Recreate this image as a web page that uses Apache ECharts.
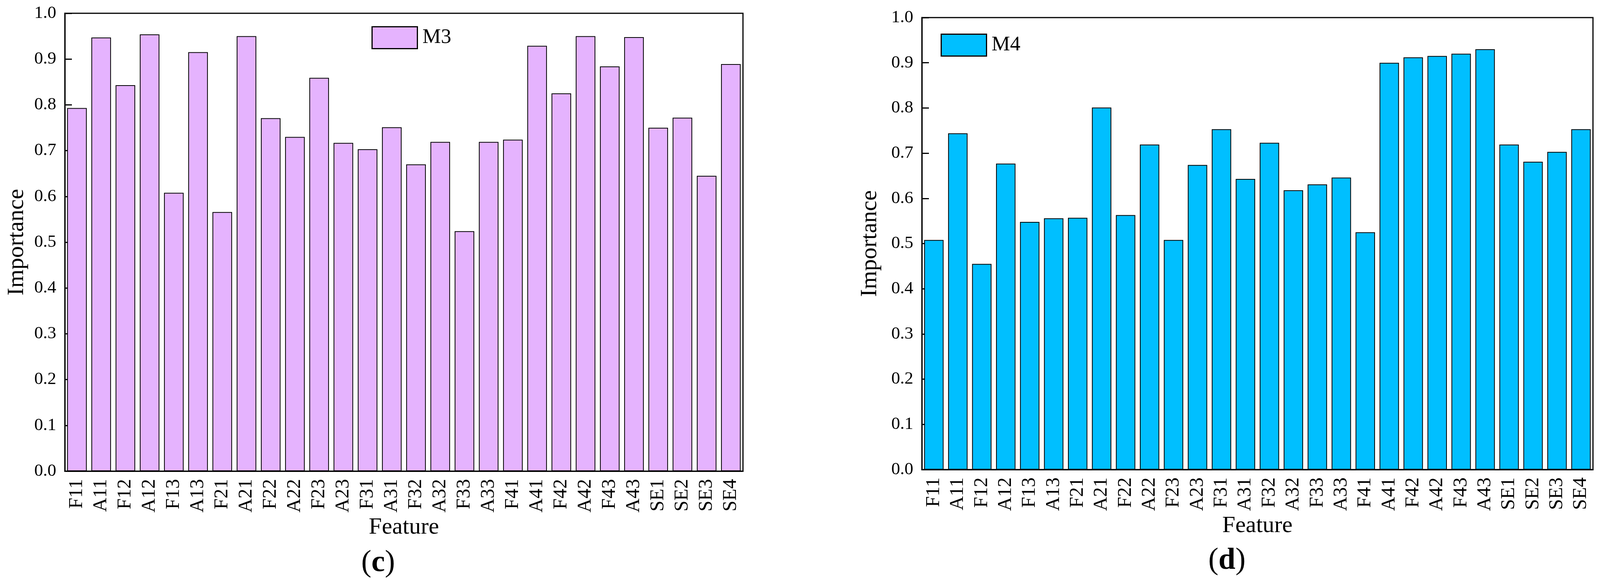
<!DOCTYPE html>
<html>
<head>
<meta charset="utf-8">
<script src="https://cdn.jsdelivr.net/npm/echarts@6/dist/echarts.min.js"></script>
<style>
html,body{margin:0;padding:0;background:#fff;}
#chart{width:4104px;height:1500px;}
</style>
</head>
<body>
<div id="chart"></div>
<script>
const categories = ['F11','A11','F12','A12','F13','A13','F21','A21','F22','A22','F23','A23','F31','A31','F32','A32','F33','A33','F41','A41','F42','A42','F43','A43','SE1','SE2','SE3','SE4'];
const m3Values = [0.793,0.947,0.843,0.954,0.608,0.915,0.566,0.950,0.771,0.730,0.859,0.717,0.703,0.751,0.670,0.719,0.524,0.719,0.724,0.929,0.825,0.950,0.884,0.948,0.750,0.772,0.645,0.889];
const m4Values = [0.508,0.744,0.455,0.677,0.548,0.556,0.557,0.801,0.563,0.719,0.508,0.674,0.753,0.643,0.723,0.618,0.631,0.646,0.525,0.900,0.912,0.915,0.920,0.930,0.719,0.681,0.703,0.753];
const yTicks = [0.0,0.1,0.2,0.3,0.4,0.5,0.6,0.7,0.8,0.9,1.0];
const seriesNames = ['M3','M4'];
const panelLabels = ['c','d'];

const FONT = '"Liberation Serif", "Times New Roman", serif';
const colors = ['#E5B3FE','#00BFFF'];

const chart = echarts.init(document.getElementById('chart'), null, {renderer:'canvas'});

function xAxisCfg(gi){
  return {
    gridIndex: gi, type:'category', data: categories,
    axisLine:{show:true, lineStyle:{color:'#000', width:3}},
    axisTick:{show:false},
    axisLabel:{rotate:90, fontFamily:FONT, fontSize:50, color:'#000', margin:20, interval:0},
    name:'Feature', nameLocation:'middle', nameGap:112,
    nameTextStyle:{fontFamily:FONT, fontSize:60, color:'#000'}
  };
}
function yAxisCfg(gi, gap){
  return {
    gridIndex: gi, type:'value', min:yTicks[0], max:yTicks[yTicks.length-1], interval:0.1,
    axisLine:{show:true, lineStyle:{color:'#000', width:3}},
    axisTick:{show:true, inside:true, length:18, lineStyle:{color:'#000', width:3}},
    axisLabel:{fontFamily:FONT, fontSize:45, color:'#000', margin:22, formatter:v=>v.toFixed(1)},
    splitLine:{show:false},
    name:'Importance', nameLocation:'middle', nameGap:gap, nameRotate:90,
    nameTextStyle:{fontFamily:FONT, fontSize:60, color:'#000'}
  };
}
function legendCfg(name, left, top, color){
  return {
    data:[name], left:left, top:top, orient:'horizontal',
    itemWidth:116, itemHeight:56, icon:'rect',
    itemStyle:{color:color, borderColor:'#000', borderWidth:3},
    textStyle:{fontFamily:FONT, fontSize:53, color:'#000', padding:[0,0,0,8]},
    selectedMode:false
  };
}
function panelTitle(label, left, top){
  return {text:'{p|(}{b|'+label+'}{p|)}', left:left, top:top, textAlign:'center',
    textStyle:{rich:{
      p:{fontFamily:FONT, fontSize:78, fontWeight:'normal', color:'#000'},
      b:{fontFamily:FONT, fontSize:78, fontWeight:'bold', color:'#000'}}}};
}

const option = {
  backgroundColor:'#fff',
  animation:false,
  grid:[
    {left:166, right:4104-1902, top:34, bottom:1500-1206, show:true, borderColor:'#000', borderWidth:3, containLabel:false},
    {left:2360, right:4104-4078, top:45, bottom:1500-1202, show:true, borderColor:'#000', borderWidth:3, containLabel:false}
  ],
  xAxis:[xAxisCfg(0), xAxisCfg(1)],
  yAxis:[yAxisCfg(0, 93), yAxisCfg(1, 103)],
  legend:[
    legendCfg(seriesNames[0], 946, 62, colors[0]),
    legendCfg(seriesNames[1], 2403, 81, colors[1])
  ],
  title:[panelTitle(panelLabels[0], 963, 1398), panelTitle(panelLabels[1], 3136, 1392)],
  series:[
    {name:seriesNames[0], type:'bar', xAxisIndex:0, yAxisIndex:0, data:m3Values, barCategoryGap:'19%',
     itemStyle:{color:colors[0], borderColor:'#000', borderWidth:2}},
    {name:seriesNames[1], type:'bar', xAxisIndex:1, yAxisIndex:1, data:m4Values, barCategoryGap:'19%',
     itemStyle:{color:colors[1], borderColor:'#000', borderWidth:2}}
  ]
};
chart.setOption(option);
</script>
</body>
</html>
